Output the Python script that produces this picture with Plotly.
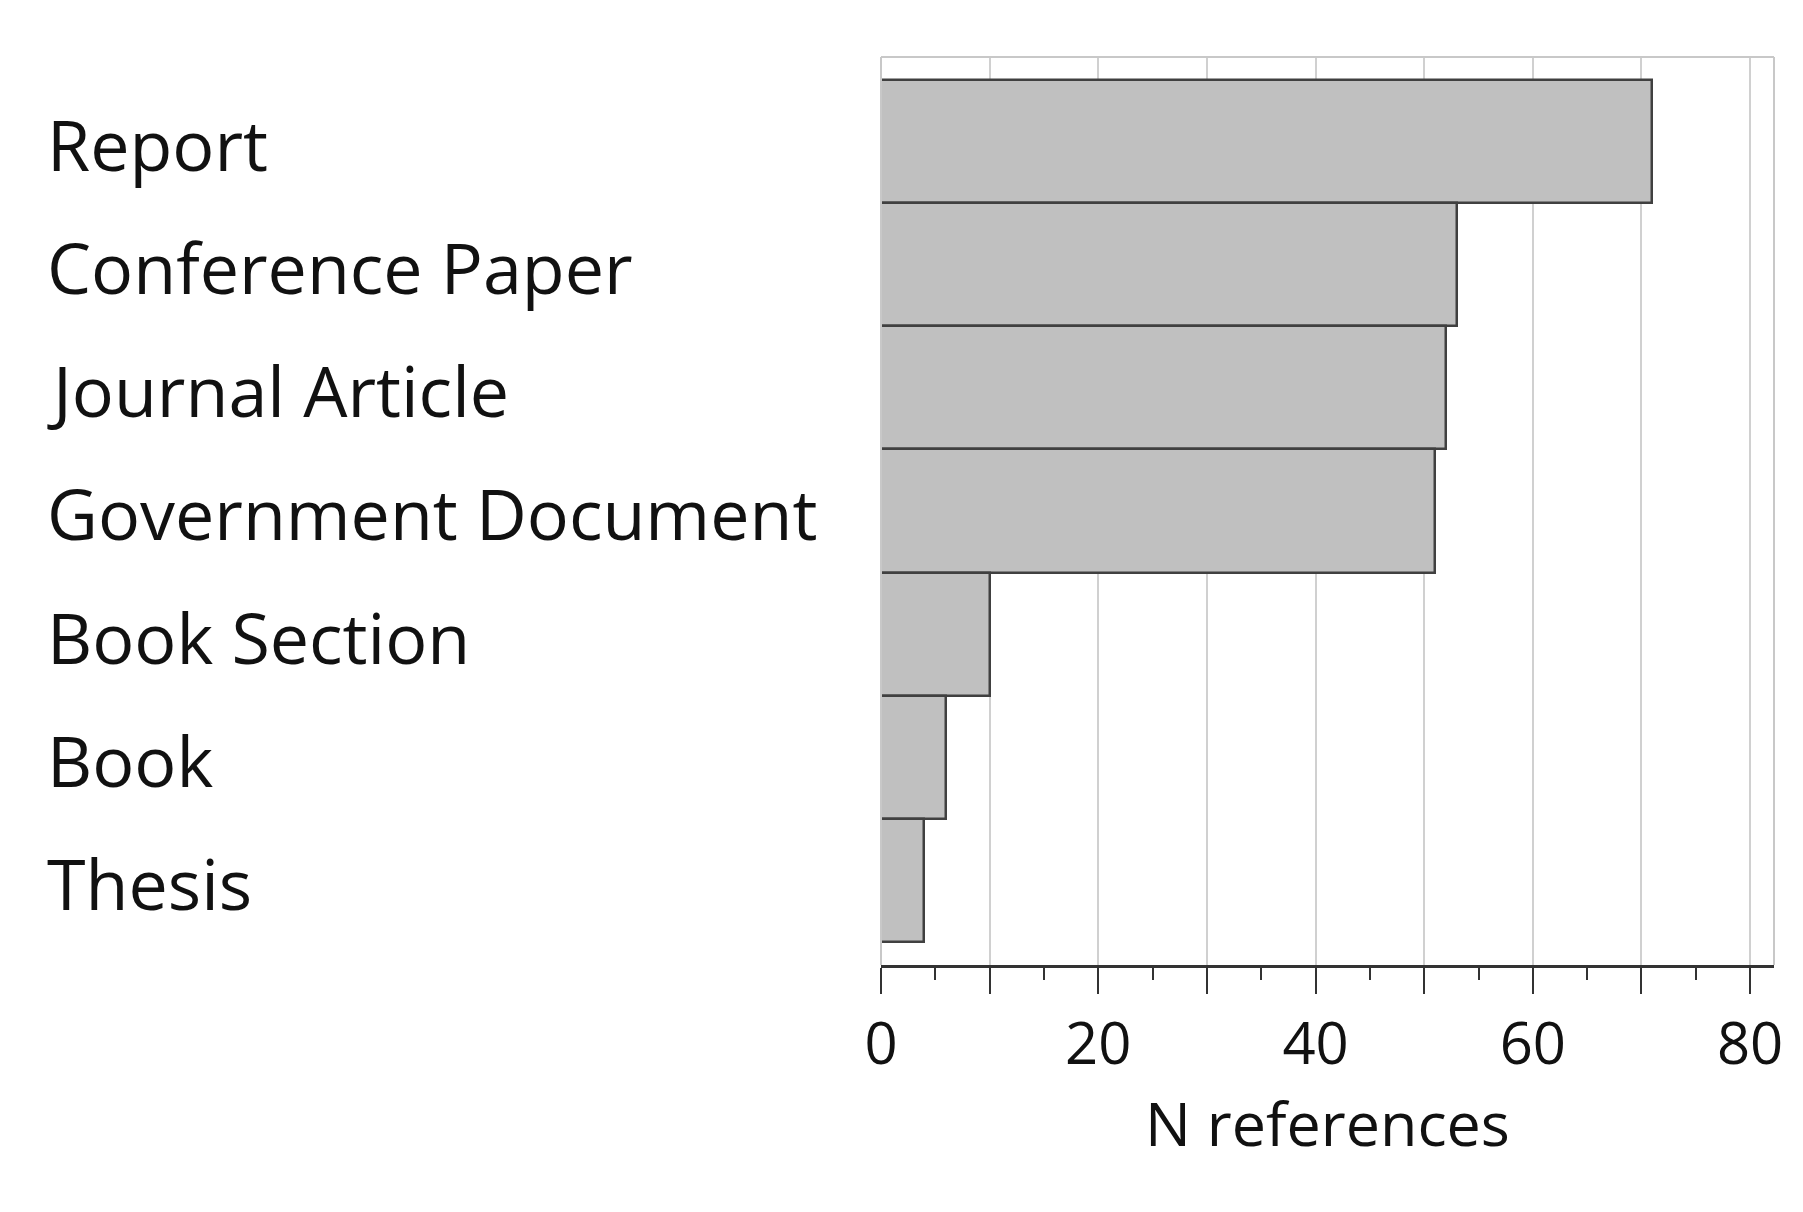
import plotly.graph_objects as go

categories = ["Report", "Conference Paper", "Journal Article", "Government Document",
              "Book Section", "Book", "Thesis"]
values = [71, 53, 52, 51, 10, 6, 4]
tick_vals = [0, 10, 20, 30, 40, 50, 60, 70, 80]
tick_text = ["0", "", "20", "", "40", "", "60", "", "80"]
x_title = "N references"

FONT = "Open Sans"
ypos = list(range(len(categories)))

fig = go.Figure(go.Bar(
    x=values, y=ypos, orientation="h",
    marker=dict(color="#c0c0c0", line=dict(color="#404040", width=2.5)),
    width=1.0,
))

for i, c in enumerate(categories):
    fig.add_annotation(text=c, x=0, xref="paper", y=i + 0.02, yref="y",
                       xshift=-836, xanchor="left", yanchor="middle",
                       showarrow=False, font=dict(family=FONT, size=70, color="#111"))

fig.update_layout(
    width=1803, height=1212,
    paper_bgcolor="white", plot_bgcolor="white",
    margin=dict(l=873, r=37, t=49, b=255),
    showlegend=False,
    bargap=0,
    xaxis=dict(range=[0, 82.2], tickvals=tick_vals, ticktext=tick_text,
               showgrid=True, gridcolor="#d0d0d0", gridwidth=2,
               showline=True, linecolor="#333", linewidth=3,
               ticks="outside", ticklen=26, tickwidth=2, tickcolor="#333",
               minor=dict(dtick=5, ticks="outside", ticklen=12, tickcolor="#333", showgrid=False),
               tickfont=dict(family=FONT, size=58, color="#111"),
               title=dict(text=x_title, font=dict(family=FONT, size=61, color="#111"), standoff=20),
               zeroline=False, mirror=False),
    yaxis=dict(range=[6.69, -0.69], showticklabels=False, showgrid=False,
               zeroline=False, showline=False, ticks=""),
    shapes=[
        dict(type="line", xref="paper", yref="paper", x0=0, x1=1, y0=1, y1=1,
             line=dict(color="#c8c8c8", width=2)),
        dict(type="line", xref="paper", yref="paper", x0=1, x1=1, y0=0, y1=1,
             line=dict(color="#c8c8c8", width=2)),
        dict(type="line", xref="paper", yref="paper", x0=0, x1=0, y0=0, y1=1,
             line=dict(color="#c8c8c8", width=2)),
    ],
)

fig.write_html("out.html")
